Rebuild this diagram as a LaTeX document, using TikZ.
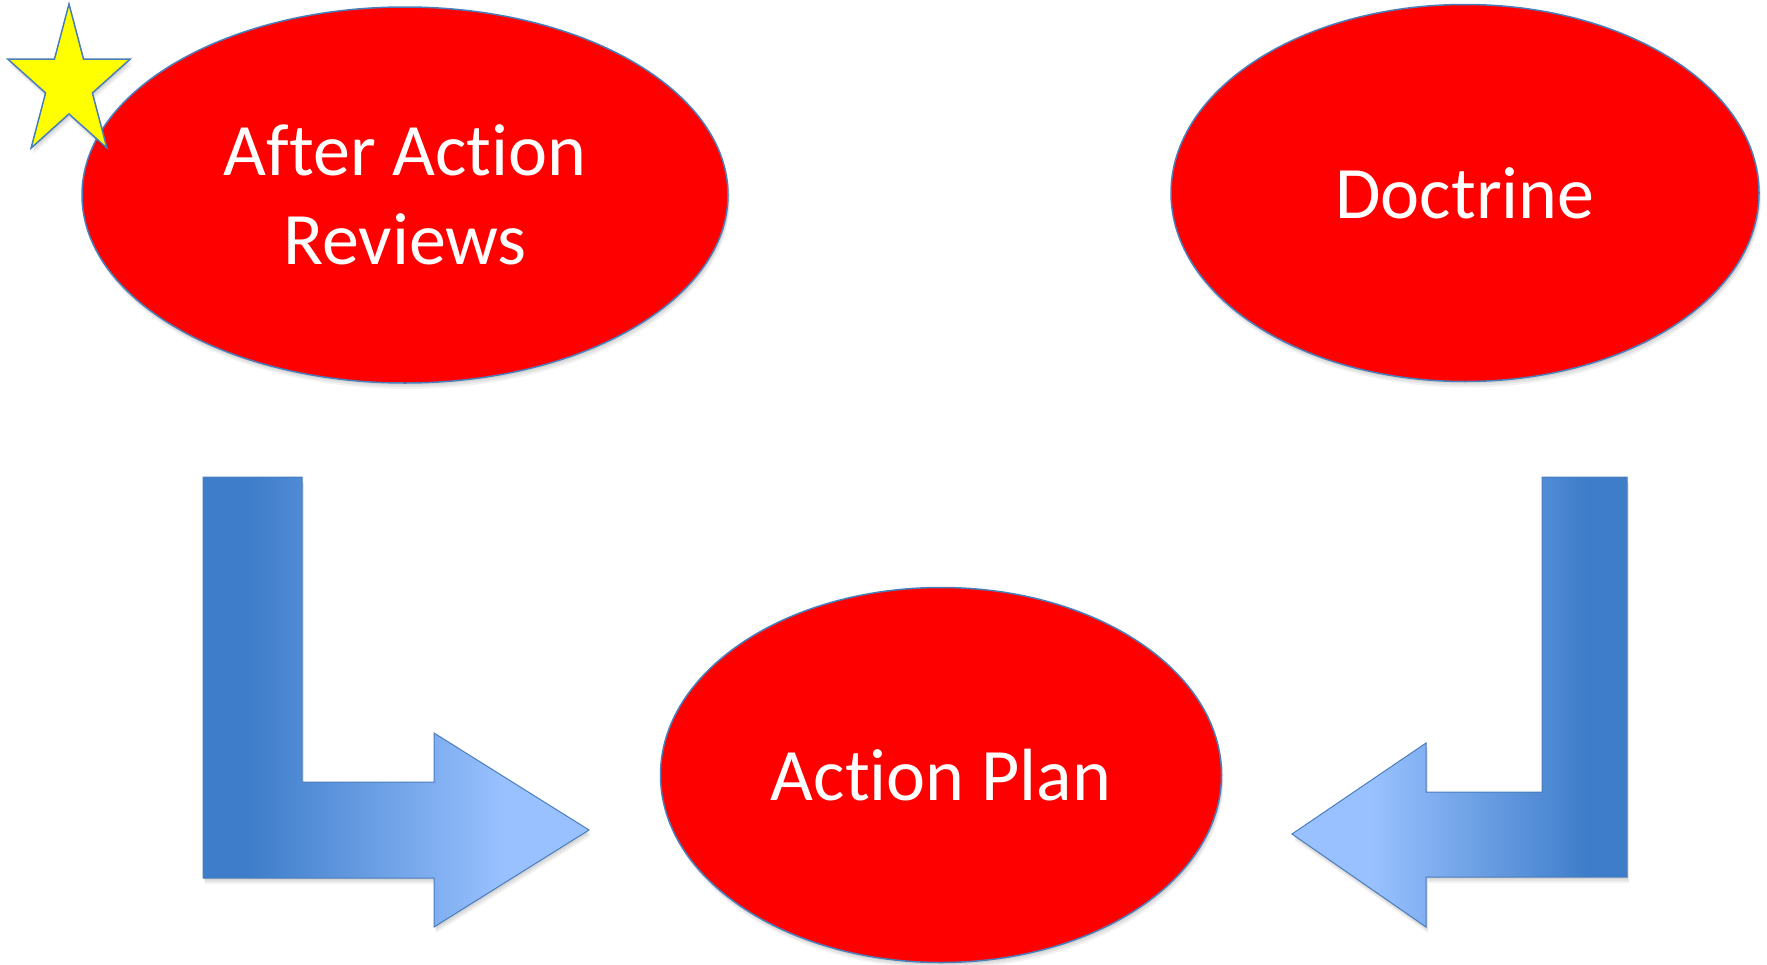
\documentclass[tikz,border=0pt]{standalone}
\usepackage{fontspec}
\setmainfont{Carlito}[Ligatures={NoCommon,NoRare,NoContextual}]
\usetikzlibrary{shapes.geometric,shadows}
\definecolor{dkb}{RGB}{62,125,202}
\definecolor{ltb}{RGB}{153,193,255}
\definecolor{edge}{RGB}{74,126,187}
\definecolor{bred}{RGB}{255,0,0}
\definecolor{byel}{RGB}{255,255,0}
\pgfdeclarehorizontalshading{larrowshade}{100bp}{color(0bp)=(dkb); color(31bp)=(dkb); color(64bp)=(ltb); color(100bp)=(ltb)}
\pgfdeclarehorizontalshading{rarrowshade}{100bp}{color(0bp)=(ltb); color(37bp)=(ltb); color(69bp)=(dkb); color(100bp)=(dkb)}
\tikzset{
  softshadow/.style={
    general shadow={fill=black, opacity=0.06, shadow xshift=1pt, shadow yshift=-2pt},
    general shadow={fill=black, opacity=0.06, shadow xshift=1.5pt, shadow yshift=-4pt},
    general shadow={fill=black, opacity=0.05, shadow xshift=2pt, shadow yshift=-6pt}},
  redell/.style={ellipse, fill=bred, draw=edge, line width=1.5pt, inner sep=0pt,
    text=white, align=center, font=\fontsize{74}{89}\selectfont, softshadow},
  bentarrow/.style={draw=edge, line width=1pt, line join=miter, softshadow},
  starshape/.style={fill=byel, draw=edge, line width=1.5pt, line join=miter, softshadow}
}
\begin{document}
\begin{tikzpicture}[x=1pt,y=-1pt]
\useasboundingbox[fill=white] (0,0) rectangle (1767,964);
% ellipses
\node[redell, minimum width=646pt, minimum height=376pt] (aar) at (405,195) {After Action\\Reviews};
\node[redell, minimum width=588pt, minimum height=377pt] (doc) at (1465,193) {Doctrine};
\node[redell, minimum width=561pt, minimum height=375pt] (plan) at (941,775) {Action Plan};
% star
\path[starshape] (69,4) -- (83.5,59) -- (130.3,59) -- (92.4,93) -- (106.9,148) -- (69,114)
  -- (31.1,148) -- (45.6,93) -- (7.7,59) -- (54.5,59) -- cycle;
% left bent arrow
\path[bentarrow, shade, shading=larrowshade] (203,477) -- (302,477) -- (302,782) -- (434,782)
  -- (434,733) -- (589,830) -- (434,927) -- (434,878) -- (203,878) -- cycle;
% right bent arrow
\path[bentarrow, shade, shading=rarrowshade] (1542,477) -- (1627,477) -- (1627,877) -- (1426,877)
  -- (1426,927) -- (1292,834) -- (1426,743) -- (1426,792) -- (1542,792) -- cycle;
\end{tikzpicture}
\end{document}
